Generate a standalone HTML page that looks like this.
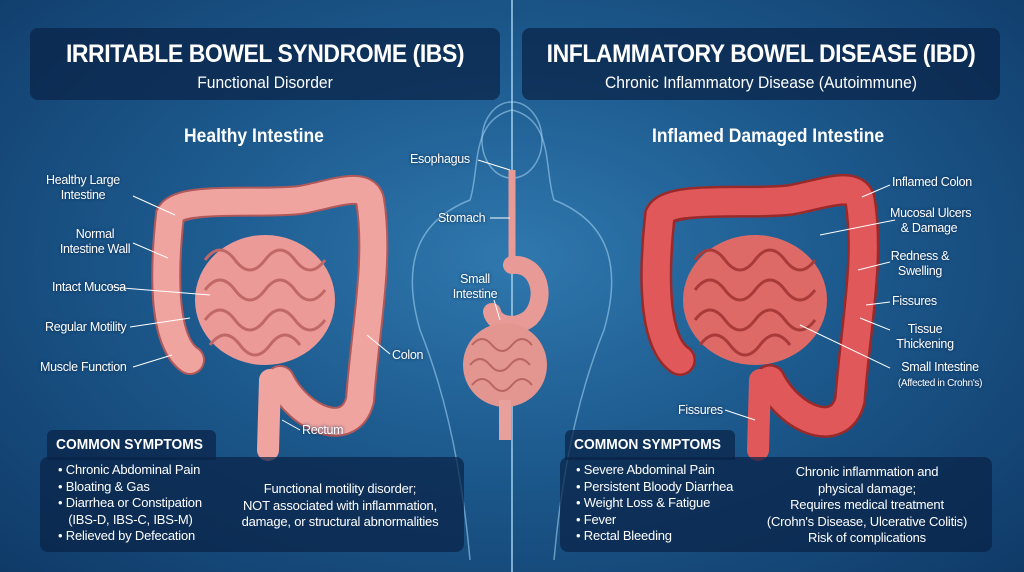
<!DOCTYPE html><html><head><meta charset="utf-8"><style>
body{margin:0;width:1024px;height:572px;overflow:hidden;font-family:"Liberation Sans",sans-serif;color:#fff;
background:radial-gradient(ellipse at 50% 45%,#2f78ae 0%,#1d5a8e 45%,#0f3a68 100%);position:relative}
.a{position:absolute;white-space:nowrap}
.box{position:absolute;background:rgba(10,35,70,.72);border-radius:8px}
.t1{font-weight:bold;font-size:25px;letter-spacing:-0.5px;text-align:center;transform:scaleX(.92)}
.t2{font-size:17px;text-align:center;transform:scaleX(.92)}
.lb{position:absolute;font-size:12.5px;text-align:center;line-height:15px;text-shadow:0 0 3px #0a2a50;white-space:nowrap;letter-spacing:-0.3px}
.h{font-weight:bold;font-size:19px;transform:scaleX(.92);transform-origin:left}
.sy{font-size:13px;line-height:16.5px;letter-spacing:-0.2px}
</style></head><body>
<div style="position:absolute;left:511px;top:0;width:2px;height:572px;background:rgba(170,215,245,.7)"></div>
<div class="box" style="left:30px;top:28px;width:470px;height:72px"></div>
<div class="box" style="left:522px;top:28px;width:478px;height:72px"></div>
<div class="a t1" style="left:30px;width:470px;top:40px">IRRITABLE BOWEL SYNDROME (IBS)</div>
<div class="a t2" style="left:30px;width:470px;top:73px">Functional Disorder</div>
<div class="a t1" style="left:522px;width:478px;top:40px">INFLAMMATORY BOWEL DISEASE (IBD)</div>
<div class="a t2" style="left:522px;width:478px;top:73px">Chronic Inflammatory Disease (Autoimmune)</div>
<div class="a h" style="left:184px;top:126px">Healthy Intestine</div>
<div class="a h" style="left:652px;top:126px">Inflamed Damaged Intestine</div>
<svg class="a" style="left:0;top:0" width="1024" height="572">
<g fill="none" stroke="rgba(170,215,245,.55)" stroke-width="1.5">
<path d="M470 560 C460 450 440 380 420 330 C400 260 420 220 470 200 C480 170 470 120 512 110 C554 120 544 170 554 200 C604 220 624 260 604 330 C584 380 564 450 554 560"/>
<ellipse cx="512" cy="140" rx="30" ry="38"/>
</g>
<g fill="none" stroke-linecap="round">
<path d="M190 360 C160 340 165 260 170 215 C180 195 260 205 300 200 C330 195 365 180 370 200 C380 260 365 330 360 400 C350 440 300 420 280 380" stroke="#b0585a" stroke-width="30"/>
<path d="M190 360 C160 340 165 260 170 215 C180 195 260 205 300 200 C330 195 365 180 370 200 C380 260 365 330 360 400 C350 440 300 420 280 380" stroke="#f0a4a0" stroke-width="26"/>
<path d="M270 380 L268 450" stroke="#f0a4a0" stroke-width="22"/>
<path d="M680 360 C650 340 655 260 660 215 C670 195 750 205 790 200 C820 195 855 180 860 200 C870 260 855 330 850 400 C840 440 790 420 770 380" stroke="#9a2a2a" stroke-width="32"/>
<path d="M680 360 C650 340 655 260 660 215 C670 195 750 205 790 200 C820 195 855 180 860 200 C870 260 855 330 850 400 C840 440 790 420 770 380" stroke="#e0585a" stroke-width="27"/>
<path d="M760 380 L758 450" stroke="#e0585a" stroke-width="22"/>
</g>
<ellipse cx="265" cy="300" rx="70" ry="65" fill="#eb9a98"/>
<path d="M205 260 q15 -20 30 0 t30 0 t30 0 t30 0 M205 290 q15 -20 30 0 t30 0 t30 0 t30 0 M205 320 q15 -20 30 0 t30 0 t30 0 t30 0 M210 345 q15 -20 30 0 t30 0 t30 0" stroke="#c06866" stroke-width="3" fill="none"/>
<ellipse cx="755" cy="300" rx="72" ry="65" fill="#dd6a66"/>
<path d="M695 260 q15 -20 30 0 t30 0 t30 0 t30 0 M695 290 q15 -20 30 0 t30 0 t30 0 t30 0 M695 320 q15 -20 30 0 t30 0 t30 0 t30 0 M700 345 q15 -20 30 0 t30 0 t30 0" stroke="#a83a3a" stroke-width="3" fill="none"/>
<path d="M512 170 L512 270" stroke="#e89a96" stroke-width="7"/>
<path d="M512 265 C540 262 548 300 530 318 C515 330 495 325 492 312" fill="none" stroke="#e89a96" stroke-width="18" stroke-linecap="round"/>
<ellipse cx="505" cy="365" rx="42" ry="42" fill="#e3958f"/>
<path d="M472 345 q10-12 20 0 t20 0 t20 0 M470 365 q10-12 20 0 t20 0 t20 0 M472 385 q10-12 20 0 t20 0 t20 0" stroke="#b96562" stroke-width="2" fill="none"/>
<path d="M505 400 L505 440" stroke="#e8a09c" stroke-width="12"/>
<g stroke="#fff" stroke-width="1">
<line x1="133" y1="196" x2="175" y2="215"/><line x1="133" y1="243" x2="168" y2="258"/>
<line x1="110" y1="287" x2="210" y2="295"/><line x1="130" y1="327" x2="190" y2="318"/>
<line x1="133" y1="367" x2="172" y2="355"/><line x1="390" y1="354" x2="367" y2="335"/>
<line x1="300" y1="430" x2="282" y2="420"/>
<line x1="478" y1="160" x2="510" y2="170"/><line x1="490" y1="218" x2="510" y2="218"/>
<line x1="494" y1="300" x2="500" y2="320"/>
<line x1="890" y1="185" x2="862" y2="197"/><line x1="895" y1="220" x2="820" y2="235"/>
<line x1="890" y1="262" x2="858" y2="270"/><line x1="890" y1="302" x2="866" y2="305"/>
<line x1="890" y1="330" x2="860" y2="318"/><line x1="890" y1="368" x2="800" y2="325"/>
<line x1="725" y1="410" x2="755" y2="420"/>
</g>
</svg>
<div class="lb" style="left:28px;top:173px;width:110px">Healthy Large<br>Intestine</div>
<div class="lb" style="left:50px;top:227px;width:90px">Normal<br>Intestine Wall</div>
<div class="lb" style="left:52px;top:280px">Intact Mucosa</div>
<div class="lb" style="left:45px;top:320px">Regular Motility</div>
<div class="lb" style="left:40px;top:360px">Muscle Function</div>
<div class="lb" style="left:392px;top:348px">Colon</div>
<div class="lb" style="left:302px;top:423px">Rectum</div>
<div class="lb" style="left:410px;top:152px">Esophagus</div>
<div class="lb" style="left:438px;top:211px">Stomach</div>
<div class="lb" style="left:450px;top:272px;width:50px">Small<br>Intestine</div>
<div class="lb" style="left:892px;top:175px">Inflamed Colon</div>
<div class="lb" style="left:890px;top:206px;width:78px">Mucosal Ulcers<br>&amp; Damage</div>
<div class="lb" style="left:890px;top:249px;width:60px">Redness &amp;<br>Swelling</div>
<div class="lb" style="left:892px;top:294px">Fissures</div>
<div class="lb" style="left:890px;top:322px;width:70px">Tissue<br>Thickening</div>
<div class="lb" style="left:885px;top:360px;width:110px">Small Intestine<br><span style="font-size:10px">(Affected in Crohn's)</span></div>
<div class="lb" style="left:678px;top:403px">Fissures</div>
<div class="box" style="left:40px;top:457px;width:424px;height:95px"></div>
<div class="box" style="left:47px;top:430px;width:169px;height:30px;border-radius:6px 6px 0 0"></div>
<div class="a" style="left:56px;top:436px;font-weight:bold;font-size:15px;transform:scaleX(.92);transform-origin:left">COMMON SYMPTOMS</div>
<div class="a sy" style="left:58px;top:462px">• Chronic Abdominal Pain<br>• Bloating &amp; Gas<br>• Diarrhea or Constipation<br>&nbsp;&nbsp;&nbsp;(IBS-D, IBS-C, IBS-M)<br>• Relieved by Defecation</div>
<div class="a sy" style="left:230px;top:481px;width:220px;text-align:center">Functional motility disorder;<br>NOT associated with inflammation,<br>damage, or structural abnormalities</div>
<div class="box" style="left:560px;top:457px;width:432px;height:95px"></div>
<div class="box" style="left:565px;top:430px;width:170px;height:30px;border-radius:6px 6px 0 0"></div>
<div class="a" style="left:574px;top:436px;font-weight:bold;font-size:15px;transform:scaleX(.92);transform-origin:left">COMMON SYMPTOMS</div>
<div class="a sy" style="left:576px;top:462px">• Severe Abdominal Pain<br>• Persistent Bloody Diarrhea<br>• Weight Loss &amp; Fatigue<br>• Fever<br>• Rectal Bleeding</div>
<div class="a sy" style="left:752px;top:464px;width:230px;text-align:center">Chronic inflammation and<br>physical damage;<br>Requires medical treatment<br>(Crohn's Disease, Ulcerative Colitis)<br>Risk of complications</div>
</body></html>
